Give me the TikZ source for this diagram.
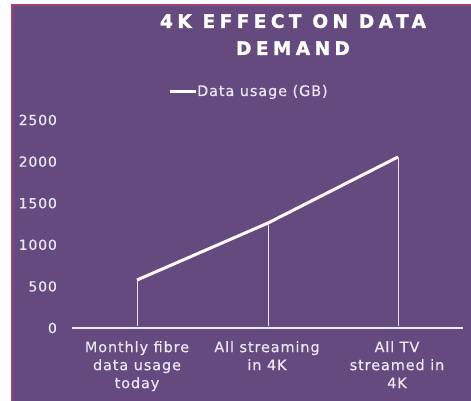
\documentclass[tikz,border=0pt]{standalone}
\usepackage{fontspec}
\setmainfont{DejaVu Sans}
\newfontfamily\titlefont{DejaVu Sans Bold}[LetterSpace=24,FakeBold=1.5]
\newfontfamily\labelfont{DejaVu Sans}[LetterSpace=6,FakeBold=0.4]

\definecolor{plum}{RGB}{101,74,128}
\definecolor{rim}{RGB}{168,64,120}
\definecolor{shade}{RGB}{178,48,110}
\definecolor{pale}{RGB}{236,230,242}

\tikzset{every picture/.style={line width=0.75pt}}
\tikzset{
  ticklabel/.style={anchor=east,inner sep=0.75pt,text=pale,font=\labelfont\fontsize{14}{16}\selectfont},
  catlabel/.style={anchor=north,inner sep=0.75pt,align=center,text=pale,font=\labelfont\fontsize{14.5}{18}\selectfont},
  dropline/.style={draw=pale,line width=0.6pt},
  dataline/.style={draw=white,line width=3pt},
  shadowline/.style={draw=shade,line width=3pt},
}

\begin{document}
\begin{tikzpicture}[x=1pt,y=1pt,yscale=-1,xscale=1]
\path[use as bounding box,fill=white] (0,0) rectangle (471,401);

%Shape: Rectangle [id:panel]
\fill[plum] (12,5) rectangle (471,401);
\draw[rim,line width=1.5pt] (12,401) -- (12,5) -- (471,5);

% Text Node
\node (title) at (293,34.5) [inner sep=0.75pt,align=center,text=white,font=\titlefont\fontsize{18.5}{27}\selectfont] {4K EFFECT ON DATA\\DEMAND};

%Legend
\coordinate (keystart) at (170,92);
\node (legend) at (196,92) [anchor=west,inner sep=0.75pt,text=pale,font=\labelfont\fontsize{14.5}{16}\selectfont] {Data usage (GB)};
\draw[dataline] (keystart) -- (legend.west);

% Text Node
\node[ticklabel] (t0) at (58,328) {0};
% Text Node
\node[ticklabel] (t500) at (58,286.4) {500};
% Text Node
\node[ticklabel] (t1000) at (58,244.8) {1000};
% Text Node
\node[ticklabel] (t1500) at (58,203.2) {1500};
% Text Node
\node[ticklabel] (t2000) at (58,161.6) {2000};
% Text Node
\node[ticklabel] (t2500) at (58,120) {2500};

%Straight Lines [id:axis]
\coordinate (axisleft) at (72,328);
\coordinate (axisright) at (463,328);
\draw[pale,line width=1.2pt] (axisleft) -- (axisright);

%Data points and feet
\coordinate (today) at (137,280);
\coordinate (stream) at (268,223);
\coordinate (tv) at (398,157);
\coordinate (todayfoot) at (137,326);
\coordinate (streamfoot) at (268,326);
\coordinate (tvfoot) at (398,326);

%Straight Lines [id:drops]
\draw[dropline] (today) -- (todayfoot);
\draw[dropline] (stream) -- (streamfoot);
\draw[dropline] (tv) -- (tvfoot);

%Straight Lines [id:series]
\draw[shadowline,shift={(1,2.2)}] (today) -- (stream) -- (tv);
\draw[dataline] (today) -- (stream) -- (tv);

% Text Node
\node[catlabel] (cat1) at (137,340) {Monthly fibre\\data usage\\today};
% Text Node
\node[catlabel] (cat2) at (267,340) {All streaming\\in 4K};
% Text Node
\node[catlabel] (cat3) at (397,340) {All TV\\streamed in\\4K};
\end{tikzpicture}
\end{document}
